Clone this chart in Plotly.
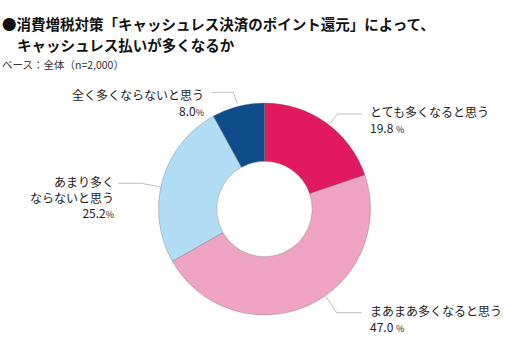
import plotly.graph_objects as go

W, H = 529, 347

categories = ["とても多くなると思う", "まあまあ多くなると思う", "あまり多く<br>ならないと思う", "全く多くならないと思う"]
values = [19.8, 47.0, 25.2, 8.0]
colors = ["#E1195E", "#EEA3C2", "#B2DCF3", "#0E4C8C"]

title_line1 = "●消費増税対策「キャッシュレス決済のポイント還元」によって、"
title_line2 = "キャッシュレス払いが多くなるか"
subtitle = "ベース：全体（n=2,000）"

FONT = "Noto Sans CJK JP"

# donut geometry (pixels)
cx, cy, r = 264.5, 209, 106

def px(x):
    return x / W

def py(y):
    return 1 - y / H

fig = go.Figure(go.Pie(
    values=values,
    labels=[c.replace("<br>", "") for c in categories],
    marker=dict(colors=colors, line=dict(color="rgba(110,110,110,0.7)", width=0.5)),
    hole=0.45,
    sort=False,
    direction="clockwise",
    rotation=0,
    textinfo="none",
    hoverinfo="skip",
    showlegend=False,
    domain=dict(x=[px(cx - r), px(cx + r)], y=[py(cy + r), py(cy - r)]),
))

anns = []

def add_text(x, y, text, xanchor, size=12, color="#222"):
    anns.append(dict(
        x=px(x), y=py(y), xref="paper", yref="paper", text=text,
        showarrow=False, xanchor=xanchor, yanchor="middle",
        font=dict(family=FONT, size=size, color=color),
        align="left" if xanchor == "left" else "right",
    ))

# titles
add_text(0, 23.5, "<b>" + title_line1 + "</b>", "left", size=14.5, color="#111")
add_text(15, 44.5, "<b>" + title_line2 + "</b>", "left", size=14.5, color="#111")
add_text(0, 64, subtitle, "left", size=10.5, color="#333")

def pct(v, space):
    sep = " " if space else ""
    return f"{v:.1f}{sep}<span style='font-size:9px'>%</span>"

# right labels
add_text(368, 119.5, categories[0] + "<br>" + pct(values[0], True), "left")
add_text(368, 318, categories[1] + "<br>" + pct(values[1], True), "left")
# left labels
add_text(206, 102, categories[3] + "<br>" + pct(values[3], False), "right")
add_text(115.5, 196.5, categories[2] + "<br>" + pct(values[2], False), "right")

# leader lines (pixel polylines)
leaders = [
    [(330, 123.5), (337.3, 114), (361.7, 114)],
    [(325, 295), (336.7, 312.7), (361.7, 312.7)],
    [(161.7, 187.3), (141.7, 183.3), (118.3, 183.3)],
    [(237.3, 103.3), (233.3, 92.3), (211.7, 92.3)],
]
shapes = []
for pts in leaders:
    path = "M " + " L ".join(f"{px(x)},{py(y)}" for x, y in pts)
    shapes.append(dict(type="path", path=path, xref="paper", yref="paper",
                       line=dict(color="#BDBDBD", width=1)))

fig.update_layout(
    width=W, height=H,
    margin=dict(l=0, r=0, t=0, b=0),
    paper_bgcolor="white", plot_bgcolor="white",
    annotations=anns, shapes=shapes,
    font=dict(family=FONT),
)

fig.write_html("out.html")
